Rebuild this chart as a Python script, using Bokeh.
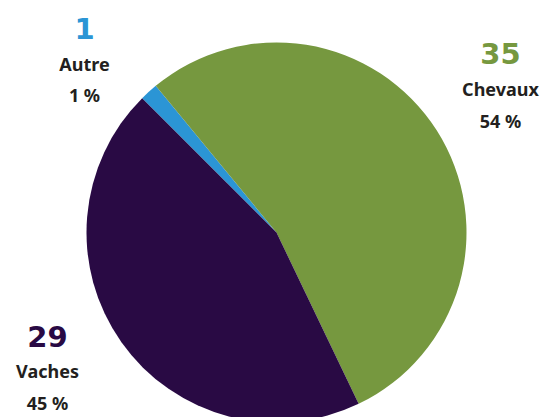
import numpy as np
from bokeh.plotting import figure
from bokeh.models import Range1d, ColumnDataSource
from bokeh.core.properties import value
from bokeh.embed import file_html
from bokeh.resources import INLINE

# ---- data ----
categories = ["Autre", "Chevaux", "Vaches"]
counts = [1, 35, 29]
percent_labels = ["1 %", "54 %", "45 %"]

# ---- style / layout ----
colors = ["#2B95D5", "#76983F", "#290A44"]
W, H = 545, 417
cx, cy, R = 276, -232, 190          # pie centre (px, y negated)
start_deg = 135.0                    # first slice starts here, going clockwise
# label anchor positions (px): x centre, baselines of number / name / percent
label_x = [84, 500, 47]
num_base = [28, 53, 336]
name_base = [63, 88, 370]
pct_base = [94, 120, 402]

vals = np.array(counts, dtype=float)
frac = vals / vals.sum()
cum = np.concatenate([[0], np.cumsum(frac)])
starts = np.radians(start_deg - 360 * cum[:-1])
ends = np.radians(start_deg - 360 * cum[1:])

src = ColumnDataSource(dict(start=starts, end=ends, color=colors, cat=categories))

p = figure(width=W, height=H, output_backend="svg", toolbar_location=None,
           x_range=Range1d(0, W), y_range=Range1d(-H, 0),
           min_border=0)
p.axis.visible = False
p.grid.visible = False
p.outline_line_color = None
p.background_fill_color = "white"

p.wedge(x=cx, y=cy, radius=R, start_angle="start", end_angle="end",
        direction="clock", fill_color="color", line_color=None, source=src)

lab = ColumnDataSource(dict(
    x=label_x,
    yn=[-v for v in num_base],
    ym=[-v for v in name_base],
    yp=[-v for v in pct_base],
    num=[str(c) for c in counts],
    name=categories,
    pct=percent_labels,
    color=colors,
))
p.text(x="x", y="yn", text="num", source=lab, text_color="color",
       text_font=value("DejaVu Sans"), text_font_style="bold", text_font_size="29px",
       text_align="center", text_baseline="alphabetic")
p.text(x="x", y="ym", text="name", source=lab, text_color="#231F20",
       text_font=value("Noto Sans"), text_font_style="bold", text_font_size="18px",
       text_align="center", text_baseline="alphabetic")
p.text(x="x", y="yp", text="pct", source=lab, text_color="#231F20",
       text_font=value("Noto Sans"), text_font_style="bold", text_font_size="18px",
       text_align="center", text_baseline="alphabetic")

open("out.html", "w").write(file_html(p, INLINE))
